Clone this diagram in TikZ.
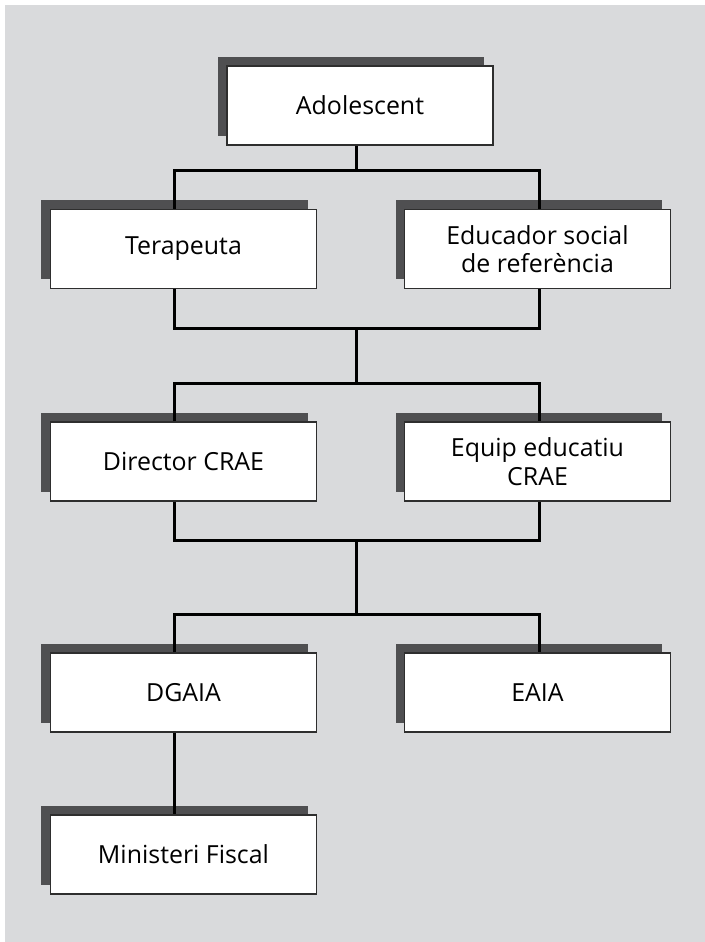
\documentclass[tikz,border=0pt]{standalone}
\usepackage{fontspec}
\setmainfont{Open Sans}
\usetikzlibrary{shadows}
\definecolor{bggray}{HTML}{D9DADC}
\definecolor{shadowgray}{HTML}{4F4F51}
\definecolor{edgegray}{HTML}{2E2E2E}
\tikzset{
  boxnode/.style={draw=edgegray, line width=1.4bp, fill=white, rectangle,
    minimum width=266bp, minimum height=79bp, inner sep=0pt, align=center,
    font=\fontsize{25}{28.5}\selectfont,
    general shadow={fill=shadowgray, shadow xshift=-9bp, shadow yshift=9.5bp}},
  conn/.style={line width=3bp, draw=black}
}
\begin{document}
\begin{tikzpicture}[x=1bp,y=-1bp]
\useasboundingbox (0,0) rectangle (705,942);
\fill[bggray] (5,5) rectangle (705,942);

\node[boxnode] (ado) at (360,105.5) {Adolescent};
\node[boxnode] (tera) at (183.5,249) {Terapeuta};
\node[boxnode] (edu) at (537.5,249) {Educador social\\de referència};
\node[boxnode] (dir) at (183.5,461.5) {Director CRAE};
\node[boxnode] (equip) at (537.5,461.5) {Equip educatiu\\CRAE};
\node[boxnode] (dgaia) at (183.5,692.5) {DGAIA};
\node[boxnode] (eaia) at (537.5,692.5) {EAIA};
\node[boxnode] (mf) at (183.5,854.5) {Ministeri Fiscal};

\coordinate (L) at (174,0);
\coordinate (R) at (539,0);
\coordinate (j1) at (356.5,170);
\coordinate (j2a) at (356.5,328);
\coordinate (j2b) at (356.5,383);
\coordinate (j3a) at (356.5,540);
\coordinate (j3b) at (356.5,614);

% Adolescent to first level
\draw[conn] (ado.south -| j1) -- (j1);
\draw[conn] (tera.north -| L) |- (j1) -| (edu.north -| R);
% first level to second level
\draw[conn] (tera.south -| L) |- (j2a) -| (edu.south -| R);
\draw[conn] (j2a) -- (j2b);
\draw[conn] (dir.north -| L) |- (j2b) -| (equip.north -| R);
% second level to third level
\draw[conn] (dir.south -| L) |- (j3a) -| (equip.south -| R);
\draw[conn] (j3a) -- (j3b);
\draw[conn] (dgaia.north -| L) |- (j3b) -| (eaia.north -| R);
% DGAIA to Ministeri Fiscal
\draw[conn] (dgaia.south -| L) -- (mf.north -| L);
\end{tikzpicture}
\end{document}
